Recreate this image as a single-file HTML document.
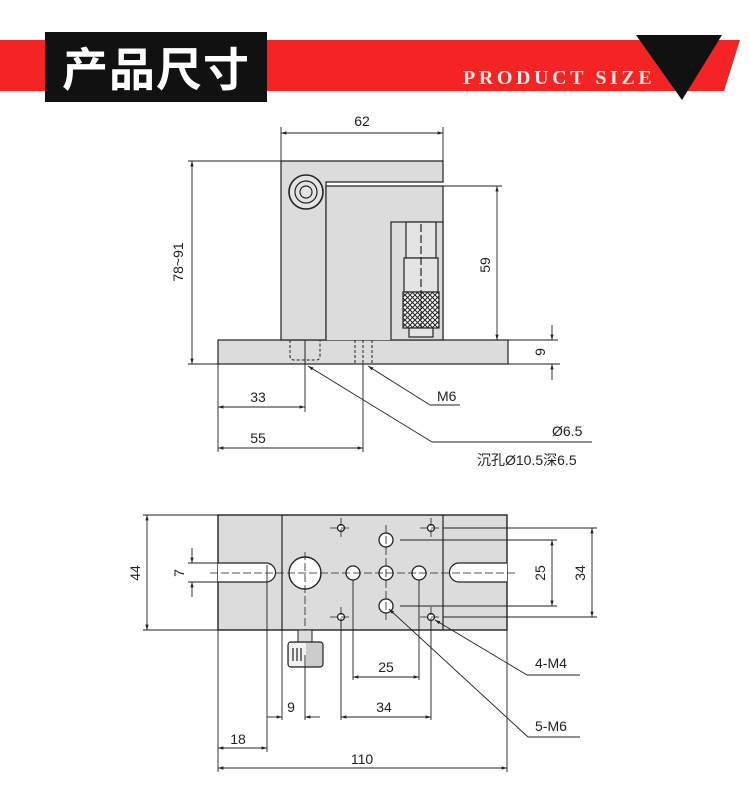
<!DOCTYPE html>
<html><head><meta charset="utf-8"><style>
html,body{margin:0;padding:0;background:#fff;width:750px;height:800px;overflow:hidden}
svg text{font-family:"Liberation Sans","Noto Sans CJK SC",sans-serif;font-size:14px;fill:#222}
</style></head><body>
<svg width="750" height="800" viewBox="0 0 750 800" xmlns="http://www.w3.org/2000/svg">
<defs>
<marker id="a" viewBox="0 0 10 10" refX="10" refY="5" markerWidth="8" markerHeight="6" orient="auto-start-reverse"><path d="M0,2 L10,5 L0,8z" fill="#222"/></marker>
<pattern id="kn" width="5" height="5" patternUnits="userSpaceOnUse"><rect width="5" height="5" fill="#fff"/><path d="M0,0L5,5M5,0L0,5" stroke="#222" stroke-width="1"/></pattern>
</defs>
<!-- header -->
<polygon points="0,40 740,40 724,91 0,91" fill="#f42424"/>
<rect x="45" y="32" width="222" height="70" fill="#111"/>
<text x="156" y="86" text-anchor="middle" style="font-size:46px;font-weight:bold;fill:#fff;font-family:'Noto Sans CJK SC',sans-serif;letter-spacing:1px">产品尺寸</text>
<text x="463" y="84" style="font-family:'Liberation Serif',serif;font-size:20px;font-weight:bold;fill:#f8e4e4;letter-spacing:3.6px">PRODUCT SIZE</text>
<polygon points="636,35 722,35 682,100" fill="#111"/>

<g stroke="#222" stroke-width="1.2" fill="none">
<!-- front view -->
<rect x="218" y="340" width="290" height="24" fill="#dcdcdc"/>
<path d="M281,340 V161 H443 V182 H326 V340 Z" fill="#dcdcdc"/>
<path d="M326,340 V186 H443 V340" fill="#dcdcdc"/>
<rect x="391" y="222" width="52" height="118" fill="#dcdcdc"/>
<rect x="406" y="222" width="30" height="36" fill="#e4e4e4"/>
<rect x="404" y="258" width="34" height="34" fill="#e4e4e4"/>
<rect x="403" y="292" width="36" height="36" fill="url(#kn)"/>
<rect x="409" y="328" width="24" height="9" fill="#e4e4e4"/>
<path d="M421,224 V328" stroke-dasharray="8,3"/>
<circle cx="306" cy="192" r="17" fill="#e4e4e4" stroke-width="1.6"/>
<circle cx="306" cy="192" r="11"/><circle cx="306" cy="192" r="6"/>
<g stroke-dasharray="3,2" stroke-width="1"><path d="M290,340 V356 Q290,360 294,360 H316 Q320,360 320,356 V340"/><path d="M355,340V364M372,340V364M363,340V364"/></g>
<path d="M305,340V364" stroke-width="1"/>
<g stroke-width="0.9">
<path d="M281,127V161M443,127V161M188,161H281M188,364H560M443,186H502M508,340H558"/>
<path d="M281,133H443" marker-start="url(#a)" marker-end="url(#a)"/>
<path d="M192,161V364" marker-start="url(#a)" marker-end="url(#a)"/>
<path d="M497,186V340" marker-start="url(#a)" marker-end="url(#a)"/>
<path d="M552,325V340" marker-end="url(#a)"/><path d="M552,380V364" marker-end="url(#a)"/>
<path d="M305,364V412M218,364V452M363,364V452"/>
<path d="M218,407H305" marker-start="url(#a)" marker-end="url(#a)"/>
<path d="M218,448H363" marker-start="url(#a)" marker-end="url(#a)"/>
<path d="M430,405L368,366" marker-end="url(#a)"/><path d="M430,405H460"/>
<path d="M432,442L308,366" marker-end="url(#a)"/><path d="M432,442H592"/>
</g>
<!-- bottom view -->
<rect x="218" y="515" width="289" height="115" fill="#dcdcdc" stroke-width="1.4"/>
<path d="M282,515V630M443,515V630"/>
<path d="M218,563H266A9.5,9.5 0 0 1 266,582H218" fill="#fff"/>
<path d="M507,563H459A9.5,9.5 0 0 0 459,582H507" fill="#fff"/>
<circle cx="305" cy="573" r="16" fill="#fff" stroke-width="1.4"/>
<g fill="#fff" stroke-width="1.3"><circle cx="353" cy="573" r="7"/><circle cx="386" cy="573" r="7"/><circle cx="419" cy="573" r="7"/><circle cx="386" cy="540" r="7"/><circle cx="386" cy="606" r="7"/>
<circle cx="341" cy="528" r="3.5"/><circle cx="431" cy="528" r="3.5"/><circle cx="341" cy="617" r="3.5"/><circle cx="431" cy="617" r="3.5"/></g>
<g stroke-width="0.8" stroke-dasharray="8,3"><path d="M210,573H515M305,552V655M386,525V620M341,518V540M431,518V540M341,607V628M431,607V628M330,528H352M420,528H442M330,617H352M420,617H442"/></g>
<rect x="298" y="630" width="14" height="12" fill="#dcdcdc" stroke-width="1"/>
<rect x="288" y="642" width="35" height="25" rx="3" fill="#ccc"/>
<rect x="289" y="643" width="17" height="23" fill="#f2f2f2" stroke="none"/>
<path d="M293,648V661M297,648V661M301,648V661" stroke-width="1.2"/>
<g stroke-width="0.9">
<path d="M143,515H218M143,630H218M188,563H218M188,582H218M443,528H597M400,540H557M400,606H557M443,617H597"/>
<path d="M147,515V630" marker-start="url(#a)" marker-end="url(#a)"/>
<path d="M192,548V563" marker-end="url(#a)"/><path d="M192,597V582" marker-end="url(#a)"/>
<path d="M552,540V606" marker-start="url(#a)" marker-end="url(#a)"/>
<path d="M592,528V617" marker-start="url(#a)" marker-end="url(#a)"/>
<path d="M267,565V752M282,630V720M305,655V720M341,620V720M353,580V680M419,580V680M431,620V720M218,630V772M507,630V772"/>
<path d="M353,677H419" marker-start="url(#a)" marker-end="url(#a)"/>
<path d="M341,717H431" marker-start="url(#a)" marker-end="url(#a)"/>
<path d="M267,717H282" marker-end="url(#a)"/><path d="M320,717H305" marker-end="url(#a)"/>
<path d="M218,748H267" marker-start="url(#a)" marker-end="url(#a)"/>
<path d="M218,768H507" marker-start="url(#a)" marker-end="url(#a)"/>
<path d="M527,675L435,620" marker-end="url(#a)"/><path d="M527,675H580"/>
<path d="M528,737L389,609" marker-end="url(#a)"/><path d="M528,737H580"/>
</g>
</g>
<text x="362" y="126" text-anchor="middle">62</text>
<text transform="translate(183,262) rotate(-90)" text-anchor="middle">78~91</text>
<text transform="translate(490,265) rotate(-90)" text-anchor="middle">59</text>
<text transform="translate(545,352) rotate(-90)" text-anchor="middle">9</text>
<text x="258" y="402" text-anchor="middle">33</text>
<text x="258" y="443" text-anchor="middle">55</text>
<text x="437" y="401">M6</text>
<text x="552" y="436">Ø6.5</text>
<text x="477" y="465">沉孔Ø10.5深6.5</text>
<text transform="translate(140,573) rotate(-90)" text-anchor="middle">44</text>
<text transform="translate(184,573) rotate(-90)" text-anchor="middle">7</text>
<text transform="translate(545,573) rotate(-90)" text-anchor="middle">25</text>
<text transform="translate(585,573) rotate(-90)" text-anchor="middle">34</text>
<text x="386" y="672" text-anchor="middle">25</text>
<text x="384" y="712" text-anchor="middle">34</text>
<text x="291" y="712" text-anchor="middle">9</text>
<text x="238" y="744" text-anchor="middle">18</text>
<text x="362" y="764" text-anchor="middle">110</text>
<text x="535" y="668">4-M4</text>
<text x="535" y="731">5-M6</text>
</svg>
</body></html>
